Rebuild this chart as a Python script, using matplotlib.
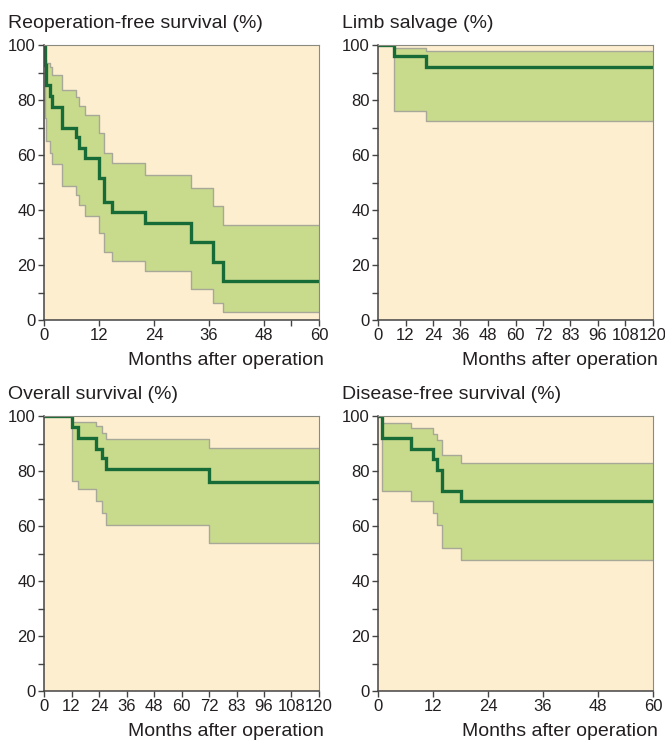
import numpy as np
import matplotlib
matplotlib.use("Agg")
import matplotlib.pyplot as plt

plt.rcParams['font.family'] = ['Liberation Sans', 'DejaVu Sans']

# Reoperation-free survival (%)
reop_t = [0, 0.2, 0.4, 1.3, 1.8, 3.9, 7.0, 7.7, 9.0, 11.9, 13.0, 14.9, 22.1, 32.1, 36.9, 39.1, 60]
reop_s = [100, 92.6, 85.3, 81.6, 77.5, 70, 66.5, 62.6, 58.9, 51.5, 43, 39.3, 35.2, 28.2, 21, 14.2, 14.2]
reop_hi = [100, 94.5, 93.3, 92, 89.2, 83.8, 81, 77.9, 74.5, 68.1, 60.7, 57, 52.8, 47.9, 41.4, 34.5, 34.5]
reop_lo = [100, 73.5, 65, 60.7, 56.8, 48.8, 45.4, 41.7, 38, 31.5, 24.6, 21.5, 17.8, 11.3, 6.3, 2.8, 2.8]

# Limb salvage (%)
limb_t = [0, 7, 21, 120]
limb_s = [100, 96, 91.9, 91.9]
limb_hi = [100, 98.8, 97.7, 97.7]
limb_lo = [100, 76, 72.4, 72.4]

# Overall survival (%)
os_t = [0, 12.1, 15, 22.6, 25.5, 27, 72.2, 120]
os_s = [100, 96, 92.1, 88.1, 84.7, 80.6, 76, 76]
os_hi = [100, 98, 98, 96.2, 93.9, 91.5, 88.4, 88.4]
os_lo = [100, 76.4, 73.3, 69.1, 64.7, 60.2, 53.8, 53.8]

# Disease-free survival (%)
dfs_t = [0, 0.95, 7.1, 12.0, 12.9, 14.0, 18.1, 60]
dfs_s = [100, 91.9, 87.9, 84.2, 80.3, 72.8, 69.2, 69.2]
dfs_hi = [100, 97.5, 95.8, 93.6, 91.2, 85.7, 82.8, 82.8]
dfs_lo = [100, 72.8, 69.2, 64.7, 60.5, 52, 47.8, 47.8]

ticks_60 = [0, 12, 24, 36, 48, 60]
ticks_120 = [0, 12, 24, 36, 48, 60, 72, 84, 96, 108, 120]
labels_120 = ['0', '12', '24', '36', '48', '60', '72', '83', '96', '108', '120']

BG = '#fdeed0'
BAND = '#c8da8c'
EDGE = '#a8a898'
LINE = '#176b36'
TXT = '#231f20'

W, H = 665, 741
fig = plt.figure(figsize=(W / 100, H / 100), dpi=100)
fig.patch.set_facecolor('white')

panels = [
    ("Reoperation-free survival (%)", reop_t, reop_s, reop_hi, reop_lo, 60, ticks_60, None, 44, 45, 8, [54]),
    ("Limb salvage (%)", limb_t, limb_s, limb_hi, limb_lo, 120, ticks_120, labels_120, 378, 45, 342, []),
    ("Overall survival (%)", os_t, os_s, os_hi, os_lo, 120, ticks_120, labels_120, 44, 416, 8, []),
    ("Disease-free survival (%)", dfs_t, dfs_s, dfs_hi, dfs_lo, 60, ticks_60, None, 378, 416, 342, []),
]

for title, t, s, hi, lo, xmax, xt, xl, left, top, tx, xminor in panels:
    aw, ah = 275, 275
    ax = fig.add_axes([left / W, (H - top - ah) / H, aw / W, ah / H])
    ax.set_facecolor(BG)
    ax.fill_between(t, lo, hi, step='post', color=BAND, lw=0)
    ax.step(t, hi, where='post', color=EDGE, lw=1.0)
    ax.step(t, lo, where='post', color=EDGE, lw=1.0)
    ax.step(t, s, where='post', color=LINE, lw=2.4, solid_joinstyle='miter')
    ax.set_xlim(0, xmax)
    ax.set_ylim(0, 100)
    ax.set_xticks(xt)
    if xl is not None:
        ax.set_xticklabels(xl)
    ax.set_xticks(xminor, minor=True)
    ax.set_yticks([0, 20, 40, 60, 80, 100])
    ax.set_yticks([10, 30, 50, 70, 90], minor=True)
    ax.tick_params(which='both', direction='out', length=4, width=1, color='#444444',
                   labelsize=12, labelcolor=TXT, pad=2)
    for side in ['left', 'bottom']:
        ax.spines[side].set_color('#444444')
        ax.spines[side].set_linewidth(1.1)
    for side in ['top', 'right']:
        ax.spines[side].set_color('#8a8a80')
        ax.spines[side].set_linewidth(0.8)
    fig.text(tx / W, (H - top + 17) / H, title, fontsize=14, color=TXT, va='baseline', ha='left')
    fig.text((left + aw + 5) / W, (H - top - ah - 45) / H, "Months after operation",
             fontsize=14, color=TXT, va='baseline', ha='right')

fig.savefig('out.png', dpi=100)
